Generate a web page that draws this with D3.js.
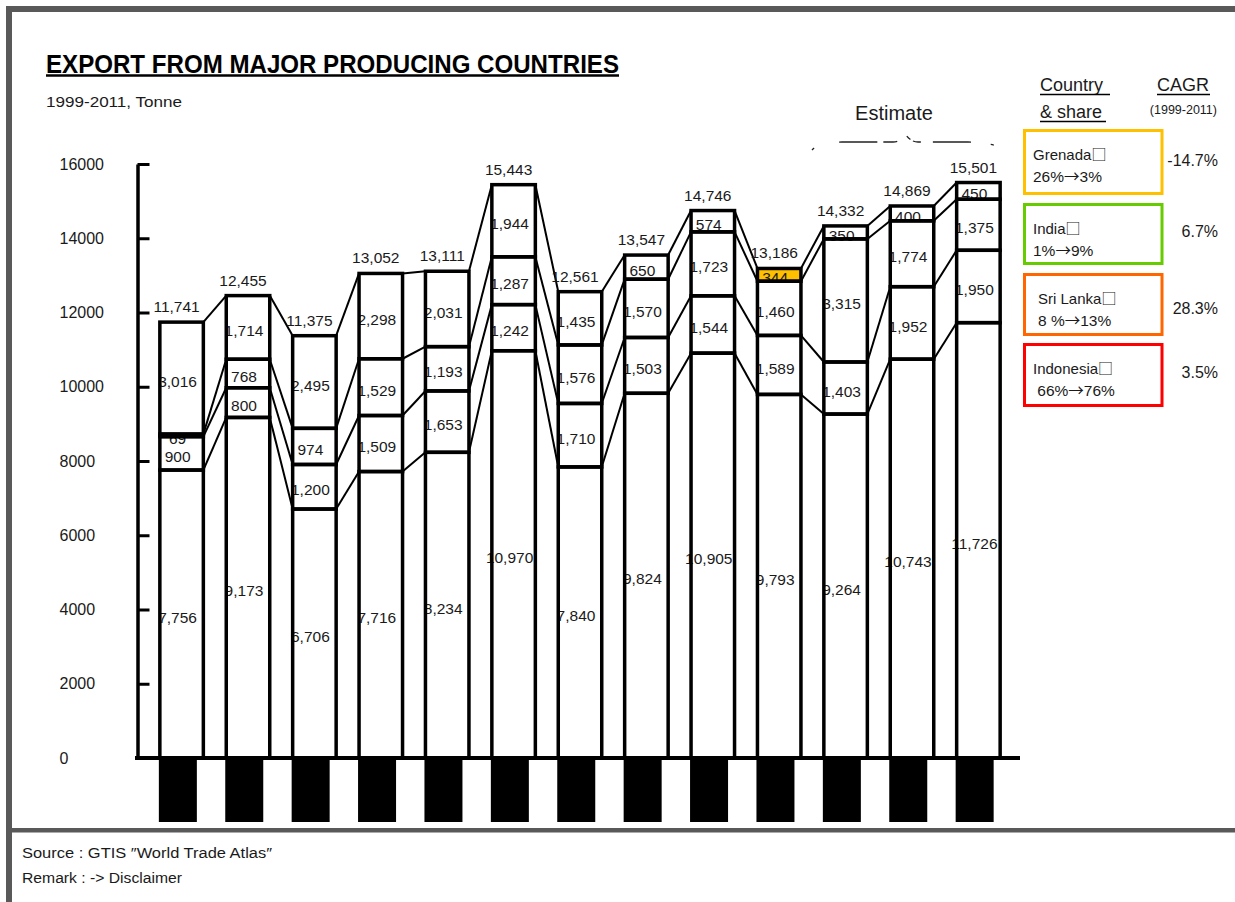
<!DOCTYPE html>
<html>
<head>
<meta charset="utf-8">
<script src="https://cdn.jsdelivr.net/npm/d3@7"></script>
<style>
  html, body { margin: 0; padding: 0; background: #fff; }
  svg { display: block; }
  text { font-family: "Liberation Sans", "Noto Sans CJK JP", sans-serif; fill: #1a1a1a; }
  tspan.cjk { font-family: "Noto Sans CJK JP", sans-serif; }
</style>
</head>
<body>
<svg id="chart" width="1235" height="902"></svg>
<script>
// ---------------- DATA ----------------
const years = ["1999","2000","2001","2002","2003","2004","2005","2006","2007","2008","2009","2010","2011"];
const indonesia = [7756, 9173, 6706, 7716, 8234, 10970, 7840, 9824, 10905, 9793, 9264, 10743, 11726];
const sriLanka  = [900, 800, 1200, 1509, 1653, 1242, 1710, 1503, 1544, 1589, 1403, 1952, 1950];
const india     = [69, 768, 974, 1529, 1193, 1287, 1576, 1570, 1723, 1460, 3315, 1774, 1375];
const grenada   = [3016, 1714, 2495, 2298, 2031, 1944, 1435, 650, 574, 344, 350, 400, 450];
const totals    = [11741, 12455, 11375, 13052, 13111, 15443, 12561, 13547, 14746, 13186, 14332, 14869, 15501];
const seriesNames = ["Indonesia", "Sri Lanka", "India", "Grenada"];
const yTicks = [0, 2000, 4000, 6000, 8000, 10000, 12000, 14000, 16000];
const highlightYear = "2008";

const legendCountries = ["Grenada□", "India□", "Sri Lanka□", "Indonesia□"];
const legendShares = ["26%→3%", "1%→9%", "8 %→13%", " 66%→76%"];
const legendCagr = ["-14.7%", "6.7%", "28.3%", "3.5%"];
const legendColors = ["#FFC000", "#66CC00", "#FF6600", "#FF0000"];

// ---------------- SETUP ----------------
const svg = d3.select("#chart");
const rows = years.map((yr, i) => ({
  year: yr, Indonesia: indonesia[i], "Sri Lanka": sriLanka[i], India: india[i], Grenada: grenada[i], total: totals[i]
}));
const stacked = d3.stack().keys(seriesNames)(rows);

const x = d3.scaleBand().domain(years).range([148.4, 148.4 + 13 * 66.4]).paddingInner(0.345).paddingOuter(0.1725);
const y = d3.scaleLinear().domain([0, 16000]).range([758, 164]);
const fmt = d3.format(",");
const bw = x.bandwidth();

// helper: put special symbols in a CJK font tspan
function richText(sel, str) {
  const parts = str.split(/([□→])/).filter(s => s.length);
  parts.forEach(p => {
    const t = sel.append("tspan").text(p);
    if (p === "□" || p === "→") t.attr("class", "cjk");
  });
}

// ---------------- FRAME ----------------
svg.append("rect").attr("x", 6).attr("y", 6).attr("width", 6).attr("height", 896).attr("fill", "#595959");
svg.append("rect").attr("x", 6).attr("y", 6).attr("width", 1229).attr("height", 6).attr("fill", "#595959");
svg.append("rect").attr("x", 12).attr("y", 828).attr("width", 1223).attr("height", 4.5).attr("fill", "#595959");

// ---------------- TITLE ----------------
svg.append("text").attr("x", 46).attr("y", 73)
  .attr("font-size", 25).attr("font-weight", "bold")
  .attr("textLength", 573).attr("lengthAdjust", "spacingAndGlyphs")
  .style("fill", "#000")
  .text("EXPORT FROM MAJOR PRODUCING COUNTRIES");
svg.append("line").attr("x1", 46).attr("x2", 619).attr("y1", 75.5).attr("y2", 75.5)
  .attr("stroke", "#000").attr("stroke-width", 2.5);
svg.append("text").attr("x", 46).attr("y", 107).attr("font-size", 14.5)
  .attr("textLength", 136).attr("lengthAdjust", "spacingAndGlyphs")
  .text("1999-2011, Tonne");

// ---------------- AXES ----------------
const yAxis = d3.axisRight(y).tickValues(yTicks).tickSize(12).tickSizeOuter(0).tickFormat("");
const ag = svg.append("g").attr("transform", "translate(137.5,0)").call(yAxis);
ag.select(".domain").attr("stroke", "#000").attr("stroke-width", 3.5);
ag.selectAll(".tick line").attr("stroke", "#000").attr("stroke-width", 3);
ag.selectAll(".tick").filter(d => d === 0).select("line").remove();

svg.append("g").selectAll("text").data(yTicks).join("text")
  .attr("x", 59.5).attr("y", d => y(d) + 5.7)
  .attr("font-size", 16)
  .text(d => d);

// black boxes below the baseline (hidden category labels)
svg.append("g").selectAll("rect").data(years).join("rect")
  .attr("x", d => x(d) - 1).attr("y", 760).attr("width", 38).attr("height", 62)
  .attr("fill", "#000");

// ---------------- BARS ----------------
const segs = [];
stacked.forEach((layer, li) => {
  layer.forEach((d, i) => {
    segs.push({ key: layer.key, li, year: years[i], y0: d[0], y1: d[1], value: d[1] - d[0] });
  });
});

// fills
svg.append("g").selectAll("rect").data(segs).join("rect")
  .attr("x", d => x(d.year)).attr("width", bw)
  .attr("y", d => y(d.y1)).attr("height", d => y(d.y0) - y(d.y1))
  .attr("fill", d => (d.key === "Grenada" && d.year === highlightYear) ? "#FFC000" : "#fff");

// segment labels
svg.append("g").selectAll("text").data(segs).join("text")
  .attr("x", d => x(d.year) + bw / 2 - 4)
  .attr("y", d => (y(d.y0) + y(d.y1)) / 2 + 8.6)
  .attr("text-anchor", "middle").attr("font-size", 15.5)
  .text(d => fmt(d.value));

// outlines
svg.append("g").selectAll("rect").data(segs).join("rect")
  .attr("x", d => x(d.year)).attr("width", bw)
  .attr("y", d => y(d.y1)).attr("height", d => y(d.y0) - y(d.y1))
  .attr("fill", "none").attr("stroke", "#000").attr("stroke-width", 3.5);

// connector lines between bars
const conn = [];
stacked.forEach(layer => {
  for (let i = 0; i < years.length - 1; i++) {
    conn.push({ a: years[i], b: years[i + 1], va: layer[i][1], vb: layer[i + 1][1] });
  }
});
svg.append("g").selectAll("line").data(conn).join("line")
  .attr("x1", d => x(d.a) + bw).attr("y1", d => y(d.va))
  .attr("x2", d => x(d.b)).attr("y2", d => y(d.vb))
  .attr("stroke", "#000").attr("stroke-width", 2);

// baseline
svg.append("line").attr("x1", 135).attr("x2", 1020).attr("y1", y(0)).attr("y2", y(0))
  .attr("stroke", "#000").attr("stroke-width", 4);

// totals
svg.append("g").selectAll("text").data(rows).join("text")
  .attr("x", d => x(d.year) + bw / 2 - 5)
  .attr("y", d => y(d.total) - 10)
  .attr("text-anchor", "middle").attr("font-size", 15.5)
  .text(d => fmt(d.total));

// ---------------- ESTIMATE ----------------
svg.append("text").attr("x", 894).attr("y", 120).attr("text-anchor", "middle")
  .attr("font-size", 20).text("Estimate");
svg.append("path")
  .attr("d", "M812,150 Q818,143 842,142 L893,142 Q900,142 906,135 Q911,142 918,142 L968,142 Q995,143 1006,150")
  .attr("fill", "none").attr("stroke", "#222").attr("stroke-width", 1.3)
  .attr("stroke-dasharray", "3 26 38 6 14 12 5 3 8 12 38 20 3 14");

// ---------------- LEGEND ----------------
const lg = svg.append("g");
lg.append("text").attr("x", 1040).attr("y", 91).attr("font-size", 18).text("Country");
lg.append("line").attr("x1", 1040).attr("x2", 1110).attr("y1", 94.5).attr("y2", 94.5).attr("stroke", "#000").attr("stroke-width", 1.5);
lg.append("text").attr("x", 1040).attr("y", 118).attr("font-size", 18).text("& share");
lg.append("line").attr("x1", 1040).attr("x2", 1106).attr("y1", 121.5).attr("y2", 121.5).attr("stroke", "#000").attr("stroke-width", 1.5);
lg.append("text").attr("x", 1157).attr("y", 91).attr("font-size", 18).text("CAGR");
lg.append("line").attr("x1", 1157).attr("x2", 1210).attr("y1", 94.5).attr("y2", 94.5).attr("stroke", "#000").attr("stroke-width", 1.5);
lg.append("text").attr("x", 1217).attr("y", 114).attr("text-anchor", "end").attr("font-size", 12.5).text("(1999-2011)");

const boxTop = [130.5, 204.5, 274.5, 344.5];
const boxH = [63, 59, 60, 61];
const nameX = [1033, 1033, 1038, 1033];
const shareX = [1033, 1033, 1038, 1033];
const cagrY = [166, 237, 314, 378];
legendCountries.forEach((name, i) => {
  lg.append("rect").attr("x", 1024.5).attr("y", boxTop[i]).attr("width", 137.5).attr("height", boxH[i])
    .attr("fill", "none").attr("stroke", legendColors[i]).attr("stroke-width", 3);
  richText(lg.append("text").attr("x", nameX[i]).attr("y", boxTop[i] + 29).attr("font-size", 15), name);
  richText(lg.append("text").attr("x", shareX[i]).attr("y", boxTop[i] + 51).attr("font-size", 15.5).style("white-space", "pre"), legendShares[i]);
  lg.append("text").attr("x", 1218).attr("y", cagrY[i]).attr("text-anchor", "end").attr("font-size", 16).text(legendCagr[i]);
});

// ---------------- FOOTER ----------------
svg.append("text").attr("x", 22).attr("y", 858).attr("font-size", 14)
  .attr("textLength", 250).attr("lengthAdjust", "spacingAndGlyphs")
  .text("Source : GTIS ″World Trade Atlas″");
svg.append("text").attr("x", 22).attr("y", 883).attr("font-size", 14)
  .attr("textLength", 160).attr("lengthAdjust", "spacingAndGlyphs")
  .text("Remark : -> Disclaimer");
</script>
</body>
</html>
